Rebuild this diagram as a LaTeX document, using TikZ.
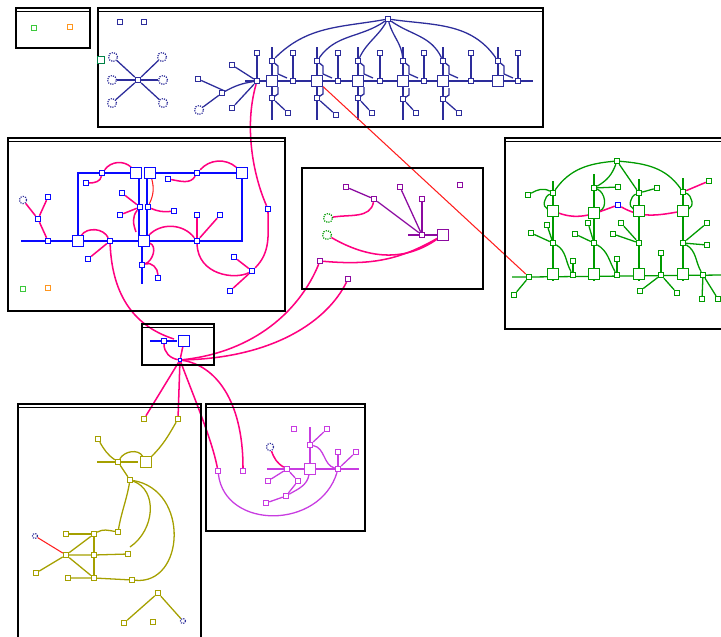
\documentclass[tikz,border=0pt]{standalone}
\usetikzlibrary{calc,backgrounds}
\definecolor{navyline}{RGB}{45,45,155}
\definecolor{blueline}{RGB}{10,10,255}
\definecolor{pinkline}{RGB}{255,0,128}
\definecolor{redline}{RGB}{255,30,30}
\definecolor{plumline}{RGB}{140,10,160}
\definecolor{greenline}{RGB}{0,155,0}
\definecolor{oliveline}{RGB}{165,160,0}
\definecolor{violetline}{RGB}{200,60,225}
\definecolor{lightgreen}{RGB}{60,200,60}
\definecolor{orangeline}{RGB}{255,150,30}
\definecolor{darkgreen}{RGB}{0,130,70}
\newcommand{\wirewidth}{1.1pt}
\newcommand{\pinkwidth}{1.3pt}
\newcommand{\frameline}{1.5pt}
\newcommand{\panel}[4]{%
\draw[line width=\frameline] (#1,#2) rectangle (#3,#4);
\draw[line width=\frameline] (#1,#2+3.5) -- (#3,#2+3.5);}

\begin{document}
\begin{tikzpicture}[x=0.03cm,y=-0.03cm,
  sq/.style={draw,rectangle,fill=white,inner sep=0pt,minimum size=0.16cm,line width=0.9pt},
  bigsq/.style={sq,minimum size=0.31cm},
  blob/.style={draw,circle,densely dotted,fill=white,inner sep=0pt,minimum size=0.27cm,line width=1pt},
  wire/.style={line width=\wirewidth},
  pinkwire/.style={pinkline,line width=\pinkwidth},
  redwire/.style={redline,line width=0.9pt}]
\useasboundingbox (0,0) rectangle (721,636);
%panels
\panel{16}{8}{90}{48}
\panel{98}{8}{543}{127}
\panel{8}{138}{285}{311}
\draw[line width=1.8pt] (302,168) rectangle (483,289);
\panel{505}{138}{724}{329}
\panel{142}{324}{214}{365}
\panel{18}{404}{201}{645}
\panel{206}{404}{365}{531}
%box a
\node[sq,draw=lightgreen] (a1) at (34,28) {};
\node[sq,draw=orangeline] (a2) at (70,27) {};
%top panel
\begin{scope}[navyline]
\node[sq] (ba) at (120,22) {};
\node[sq] (bb) at (144,22) {};
\node[sq] (bstar) at (138,80) {};
\node[blob] (s1) at (113,57) {};
\node[blob] (s2) at (162,57) {};
\node[blob] (s3) at (112,80) {};
\node[blob] (s4) at (163,80) {};
\node[blob] (s5) at (112,103) {};
\node[blob] (s6) at (163,103) {};
\node[sq] (bhub) at (257,81) {};
\node[sq] (b1) at (232,65) {};
\node[sq] (b2) at (198,79) {};
\node[sq] (b3) at (222,93) {};
\node[sq] (b4) at (232,108) {};
\node[sq] (b5) at (257,53) {};
\node[blob] (bblob) at (199,110) {};
\node[sq] (ttop) at (388,19) {};
\node[sq] (tu1) at (272,61) {};
\node[bigsq] (tq1) at (272,81) {};
\node[sq] (tl1) at (272,98) {};
\node[sq] (ts1) at (293,53) {};
\node[sq] (tn1) at (293,81) {};
\node[sq] (tr1) at (288,113) {};
\node[sq] (tu2) at (317,61) {};
\node[bigsq] (tq2) at (317,81) {};
\node[sq] (tl2) at (317,98) {};
\node[sq] (ts2) at (338,53) {};
\node[sq] (tn2) at (338,81) {};
\node[sq] (tr2) at (336,115) {};
\node[sq] (tu3) at (358,61) {};
\node[bigsq] (tq3) at (358,81) {};
\node[sq] (tl3) at (358,98) {};
\node[sq] (ts3) at (380,53) {};
\node[sq] (tn3) at (380,81) {};
\node[sq] (tr3) at (372,113) {};
\node[sq] (tu4) at (403,61) {};
\node[bigsq] (tq4) at (403,81) {};
\node[sq] (tl4) at (403,99) {};
\node[sq] (ts4) at (424,53) {};
\node[sq] (tn4) at (424,81) {};
\node[sq] (tr4) at (416,113) {};
\node[sq] (tu5) at (443,61) {};
\node[bigsq] (tq5) at (443,81) {};
\node[sq] (tl5) at (443,99) {};
\node[sq] (ts5) at (471,53) {};
\node[sq] (tn5) at (471,81) {};
\node[sq] (tr5) at (459,113) {};
\node[sq] (tu6) at (498,61) {};
\node[bigsq] (tq6) at (498,81) {};
\node[sq] (ts6) at (518,53) {};
\node[sq] (tn6) at (518,81) {};
\coordinate (tbl) at (245,81);
\coordinate (tbr) at (533,81);
\end{scope}
\node[sq,draw=darkgreen,minimum size=0.2cm] (bgreen) at (101,60) {};
\begin{scope}[on background layer]
\begin{scope}[navyline,wire]
\draw (bstar) -- (s1);
\draw (bstar) -- (s2);
\draw (bstar) -- (s3);
\draw (bstar) -- (s4);
\draw (bstar) -- (s5);
\draw (bstar) -- (s6);
\draw (bhub) -- (b1);
\draw (bhub) to[bend right=10] (b3) -- (b2);
\draw (b3) -- (bblob);
\draw (bhub) -- (b4);
\draw (bhub) -- (b5);
\draw (tbl) -- (tbr);
\draw (tq1.center) ++(0,-34) -- ++(0,73);
\draw (tq2.center) ++(0,-34) -- ++(0,73);
\draw (tq3.center) ++(0,-34) -- ++(0,73);
\draw (tq4.center) ++(0,-34) -- ++(0,73);
\draw (tq5.center) ++(0,-34) -- ++(0,73);
\draw (tq6.center) ++(0,-34) -- ++(0,39);
\draw (ts1) -- (tn1);
\draw (ts2) -- (tn2);
\draw (ts3) -- (tn3);
\draw (ts4) -- (tn4);
\draw (ts5) -- (tn5);
\draw (ts6) -- (tn6);
\draw (tl1) -- (tr1);
\draw (tl2) -- (tr2);
\draw (tl3) -- (tr3);
\draw (tl4) -- (tr4);
\draw (tl5) -- (tr5);
\draw (tu1.center) -- ++(6,5) -- ++(0,8) -- ++(9,4);
\draw (tu2.center) -- ++(6,5) -- ++(0,8) -- ++(9,4);
\draw (tu3.center) -- ++(6,5) -- ++(0,8) -- ++(9,4);
\draw (tu4.center) -- ++(6,5) -- ++(0,8) -- ++(9,4);
\draw (tu5.center) -- ++(6,5) -- ++(0,8) -- ++(9,4);
\draw (tu6.center) -- ++(6,5) -- ++(0,8) -- ++(9,4);
\draw (tl1.center) -- ++(6,-4) -- ++(0,-7);
\draw (tl2.center) -- ++(6,-4) -- ++(0,-7);
\draw (tl3.center) -- ++(6,-4) -- ++(0,-7);
\draw (tl4.center) -- ++(6,-4) -- ++(0,-7);
\draw (tl5.center) -- ++(6,-4) -- ++(0,-7);
\draw (ttop) to[out=190,in=45] (tu1);
\draw (ttop) to[out=215,in=55] (tu2);
\draw (ttop) to[out=240,in=65] (tu3);
\draw (ttop) to[out=-75,in=95] (tu4);
\draw (ttop) to[out=-35,in=115] (tu5);
\draw (ttop) to[out=-8,in=125] (tu6);
\end{scope}
\end{scope}
%left panel
\begin{scope}[blueline]
\node[bigsq] (cA) at (78,241) {};
\node[bigsq] (cB) at (136,173) {};
\node[bigsq] (cC) at (150,173) {};
\node[bigsq] (cD) at (242,173) {};
\node[bigsq] (cE) at (144,241) {};
\node[sq] (c1) at (48,197) {};
\node[sq] (c2) at (38,219) {};
\node[sq] (c3) at (48,241) {};
\node[sq] (c4) at (102,173) {};
\node[sq] (c5) at (86,183) {};
\node[sq] (c6) at (140,207) {};
\node[sq] (c7) at (148,207) {};
\node[sq] (c8) at (122,193) {};
\node[sq] (c9) at (120,215) {};
\node[sq] (c10) at (110,241) {};
\node[sq] (c11) at (88,259) {};
\node[sq] (c12) at (197,173) {};
\node[sq] (c13) at (168,179) {};
\node[sq] (c14) at (197,241) {};
\node[sq] (c15) at (197,215) {};
\node[sq] (c16) at (220,215) {};
\node[sq] (c17) at (142,265) {};
\node[sq] (c18) at (158,278) {};
\node[sq] (c19) at (268,209) {};
\node[sq] (c20) at (252,271) {};
\node[sq] (c21) at (234,257) {};
\node[sq] (c22) at (230,291) {};
\node[sq] (c23) at (174,211) {};
\coordinate (cL) at (21,241);
\coordinate (cRB) at (242,241);
\coordinate (cp1) at (136,232);
\end{scope}
\node[blob,draw=navyline,minimum size=0.22cm] (cblob) at (23,200) {};
\node[sq,draw=lightgreen] (cgreen) at (23,289) {};
\node[sq,draw=orangeline] (corange) at (48,288) {};
\begin{scope}[on background layer]
\begin{scope}[blueline,line width=1.5pt]
\draw (cL) -- (cA) -- (cE) -- (cRB) -- (cD) -- (cC);
\draw (cA) |- (cB);
\draw ($(cB.south)+(3,0)$) -- ($(cE.north)+(-5,0)$);
\draw ($(cC.south)+(-3,0)$) -- ($(cE.north)+(3,0)$);
\draw ($(cE.south)+(-2,0)$) -- ++(0,37);
\end{scope}
\begin{scope}[pinkwire]
\draw (c1) -- (c2) -- (c3);
\draw (c2) -- (cblob);
\draw (c5) to[out=0,in=-100] (c4);
\draw (c4) to[bend left=50] (cB);
\draw (c13) to[out=-10,in=-120] (c12);
\draw (c12) to[bend left=45] (cD);
\draw (c6) -- (c8);
\draw (c6) -- (c9);
\draw (c6) to[out=-130,in=110] (cp1);
\draw (c7) to[bend right=15] (c23);
\draw (cA) to[bend left=60] (c10);
\draw (c11) -- (c10);
\draw (cE) to[bend left=50] (c14);
\draw (c14) -- (c15);
\draw (c14) -- (c16);
\draw (cE) to[out=-20,in=20] (c17);
\draw (c17) to[out=20,in=90] (c18);
\draw (bhub) .. controls (243,130) and (255,180) .. (c19);
\draw (c19) to[out=-90,in=45] (c20);
\draw (c14) .. controls (198,275) and (235,280) .. (c20);
\draw (c21) -- (c20);
\draw (c22) -- (c20);
\end{scope}
\draw[redwire] (cC) to[bend left=20] (c7);
\end{scope}
%middle panel
\begin{scope}[plumline]
\node[sq] (d1) at (346,187) {};
\node[sq] (d2) at (374,199) {};
\node[sq] (d3) at (400,187) {};
\node[sq] (d4) at (422,199) {};
\node[sq] (d5) at (460,185) {};
\node[sq] (dH) at (422,235) {};
\node[bigsq] (dBig) at (443,235) {};
\node[sq] (d6) at (320,261) {};
\node[sq] (d7) at (348,279) {};
\coordinate (dL) at (408,235);
\end{scope}
\node[blob,draw=greenline] (dblob1) at (328,218) {};
\node[blob,draw=greenline] (dblob2) at (327,235) {};
\begin{scope}[on background layer]
\begin{scope}[plumline,wire]
\draw (d1) -- (d2) -- (dH);
\draw (d3) -- (dH);
\draw (d4) -- (dH);
\draw (dL) -- (dBig);
\end{scope}
\begin{scope}[pinkwire]
\draw (d2) to[out=-100,in=10] (dblob1);
\draw (dblob2) to[out=-30,in=215] (dBig);
\draw (d6) to[out=-5,in=210] (dBig);
\end{scope}
\end{scope}
%small panel
\begin{scope}[blueline]
\node[sq] (f1) at (164,341) {};
\node[bigsq] (f2) at (184,341) {};
\node[sq,minimum size=0.1cm] (fH) at (180,360) {};
\coordinate (fL) at (150,341);
\coordinate (fR) at (177,341);
\coordinate (fP) at (174,339);
\end{scope}
\draw[on background layer,blueline,line width=1.3pt] (fL) -- (f1) -- (fR);
%lower left panel
\begin{scope}[oliveline]
\node[sq] (g1) at (144,419) {};
\node[sq] (g2) at (178,419) {};
\node[sq] (g3) at (98,439) {};
\node[sq] (g4) at (118,462) {};
\node[bigsq] (gBig) at (146,462) {};
\node[sq] (g5) at (130,480) {};
\node[sq] (g6) at (118,532) {};
\node[sq] (g7) at (66,534) {};
\node[sq] (g8) at (94,534) {};
\node[sq] (g9) at (66,555) {};
\node[sq] (g10) at (94,555) {};
\node[sq] (g11) at (128,554) {};
\node[sq] (g12) at (36,573) {};
\node[sq] (g13) at (68,578) {};
\node[sq] (g14) at (94,578) {};
\node[sq] (g15) at (132,580) {};
\node[sq] (g16) at (158,593) {};
\node[sq] (g17) at (124,623) {};
\node[sq] (g18) at (153,622) {};
\coordinate (gE) at (130,547);
\coordinate (gHL) at (97,462);
\coordinate (gHR) at (138,462);
\end{scope}
\node[blob,draw=navyline,minimum size=0.15cm] (gblob1) at (183,621) {};
\node[blob,draw=navyline,minimum size=0.15cm] (gblob2) at (35,536) {};
\begin{scope}[on background layer]
\begin{scope}[oliveline,wire]
\draw (gHL) -- (gHR);
\draw (g2) to[out=-120,in=45] (gBig);
\draw (g3) to[out=-60,in=145] (g4);
\draw (g4) to[out=60,in=120] (gBig);
\draw (g4) -- (g5);
\draw (g5) to[out=-100,in=80] (g6);
\draw (g6) to[out=170,in=30] (g8);
\draw (g7) -- (g8) -- (g10) -- (g14);
\draw (g9) -- (g10) -- (g11);
\draw (g12) -- (g9) -- (g8);
\draw (g9) -- (g14);
\draw (g13) -- (g14) -- (g15);
\draw (g5) .. controls (190,490) and (185,585) .. (g15);
\draw (g5) .. controls (158,490) and (155,530) .. (gE);
\draw (g17) -- (g16) -- (gblob1);
\end{scope}
\draw[redwire] (gblob2) -- (g9);
\end{scope}
%lower middle panel
\begin{scope}[violetline]
\node[sq] (h1) at (218,471) {};
\node[sq] (h2) at (243,471) {};
\node[bigsq] (hBig) at (310,469) {};
\node[sq] (h3) at (310,445) {};
\node[sq] (h4) at (327,429) {};
\node[sq] (h5) at (294,429) {};
\node[sq] (h6) at (287,469) {};
\node[sq] (h7) at (298,481) {};
\node[sq] (h8) at (268,481) {};
\node[sq] (h9) at (286,496) {};
\node[sq] (h10) at (266,503) {};
\node[sq] (h11) at (338,469) {};
\node[sq] (h12) at (338,452) {};
\node[sq] (h13) at (356,452) {};
\coordinate (hL) at (267,469);
\coordinate (hR) at (359,469);
\coordinate (hT) at (310,427);
\end{scope}
\node[blob,draw=navyline,minimum size=0.22cm] (hblob) at (270,447) {};
\begin{scope}[on background layer]
\begin{scope}[violetline,wire]
\draw (hL) -- (hR);
\draw (hT) -- (hBig);
\draw (h4) -- (h3);
\draw (h3) to[out=-10,in=165] (h11);
\draw (h8) -- (h6) -- (h7) -- (h9) -- (h10);
\draw (hBig) to[out=-100,in=30] (h9);
\draw (h11) -- (h12);
\draw (h11) -- (h13);
\draw (h1) .. controls (225,530) and (320,530) .. (h11);
\end{scope}
\draw[pinkwire] (hblob) to[out=-70,in=150] (h6);
\end{scope}
%right panel
\begin{scope}[greenline]
\node[sq] (eTop) at (617,161) {};
\node[sq] (eu1) at (553,193) {};
\node[sq] (eu2) at (594,188) {};
\node[sq] (eu3) at (639,193) {};
\node[sq] (eu4) at (683,192) {};
\node[bigsq] (em1) at (553,211) {};
\node[bigsq] (em2) at (594,213) {};
\node[bigsq] (em3) at (639,211) {};
\node[bigsq] (em4) at (683,211) {};
\node[sq] (en1) at (553,243) {};
\node[sq] (en2) at (594,243) {};
\node[sq] (en3) at (639,243) {};
\node[sq] (en4) at (683,243) {};
\node[bigsq] (eb1) at (553,274) {};
\node[bigsq] (eb2) at (594,274) {};
\node[bigsq] (eb3) at (639,274) {};
\node[bigsq] (eb4) at (683,274) {};
\node[sq] (e0) at (529,277) {};
\node[sq] (ek1) at (573,275) {};
\node[sq] (ek2) at (617,275) {};
\node[sq] (ek3) at (661,275) {};
\node[sq] (ek4) at (703,275) {};
\node[sq] (ea1) at (573,261) {};
\node[sq] (ea2) at (617,259) {};
\node[sq] (ea3) at (661,253) {};
\node[sq] (e1) at (528,195) {};
\node[sq] (e2) at (618,187) {};
\node[sq] (e3) at (657,188) {};
\node[sq] (e4) at (709,181) {};
\node[sq] (e5) at (547,225) {};
\node[sq] (e6) at (531,233) {};
\node[sq] (e7) at (588,223) {};
\node[sq] (e8) at (575,234) {};
\node[sq] (e9) at (621,223) {};
\node[sq] (e10) at (613,234) {};
\node[sq] (e11) at (707,223) {};
\node[sq] (e12) at (707,245) {};
\node[sq] (e13) at (514,295) {};
\node[sq] (e14) at (640,291) {};
\node[sq] (e15) at (677,293) {};
\node[sq] (e16) at (702,299) {};
\node[sq] (e17) at (718,299) {};
\coordinate (eBL) at (512,277);
\coordinate (eBR) at (722,275);
\end{scope}
\node[sq,draw=blueline] (eblue) at (618,205) {};
\begin{scope}[on background layer]
\begin{scope}[greenline,wire]
\draw (eBL) -- (e0) -- (eBR);
\draw ($(eu1)+(0,-12)$) -- (eu1) -- (em1) -- (en1) -- (eb1) -- ++(0,6);
\draw ($(eu2)+(0,-14)$) -- (eu2) -- (em2) -- (en2) -- (eb2) -- ++(0,6);
\draw ($(eu3)+(0,-14)$) -- (eu3) -- (em3) -- (en3) -- (eb3) -- ++(0,6);
\draw ($(eu4)+(0,-14)$) -- (eu4) -- (em4) -- (en4) -- (eb4) -- ++(0,6);
\draw (eTop) to[out=185,in=55] (eu1);
\draw (eTop) to[out=-5,in=125] (eu4);
\draw (eTop) to[out=-110,in=30] (eu2);
\draw (eTop) -- (eu3);
\draw (e1) to[out=30,in=150] (eu1);
\draw (eu2) -- (e2);
\draw (eu3) -- (e3);
\draw (eu1) to[out=200,in=160] (em1);
\draw (eu2) to[out=-20,in=20] (em2);
\draw (eu3) to[out=200,in=160] (em3);
\draw (eu4) to[out=-20,in=20] (em4);
\draw (e5) -- (en1);
\draw (e6) -- (en1);
\draw (e7) -- (en2);
\draw (e8) -- (en2);
\draw (e9) -- (en3);
\draw (e10) -- (en3);
\draw (e11) -- (en4);
\draw (e12) -- (en4);
\draw (en1) to[out=-30,in=120] (ek1);
\draw (en2) to[out=-30,in=120] (ek2);
\draw (en4) to[out=-30,in=120] (ek4);
\draw (ea1) -- (ek1);
\draw (ea2) -- (ek2);
\draw (ea3) -- (ek3);
\draw (e13) -- (e0);
\draw (e14) -- (ek3);
\draw (e15) -- (ek3);
\draw (e16) -- (ek4);
\draw (e17) -- (ek4);
\end{scope}
\begin{scope}[pinkwire]
\draw (eu4) -- (e4);
\draw (em1) to[out=-20,in=200] (eblue);
\draw (eblue) to[out=-30,in=190] (em4);
%between panels
\draw (c10) .. controls (112,290) and (130,325) .. (fP);
\draw (f2) -- (fH);
\draw (f1) to[out=-90,in=170] (fH);
\draw (d6) .. controls (300,310) and (255,352) .. (fH);
\draw (d7) .. controls (328,320) and (275,358) .. (fH);
\draw (fH) -- (g1);
\draw (fH) -- (g2);
\draw (fH) .. controls (195,400) and (212,440) .. (h1);
\draw (fH) .. controls (215,365) and (243,400) .. (h2);
\end{scope}
\draw[redwire] (tq2) -- (e0);
\end{scope}
\end{tikzpicture}
\end{document}
